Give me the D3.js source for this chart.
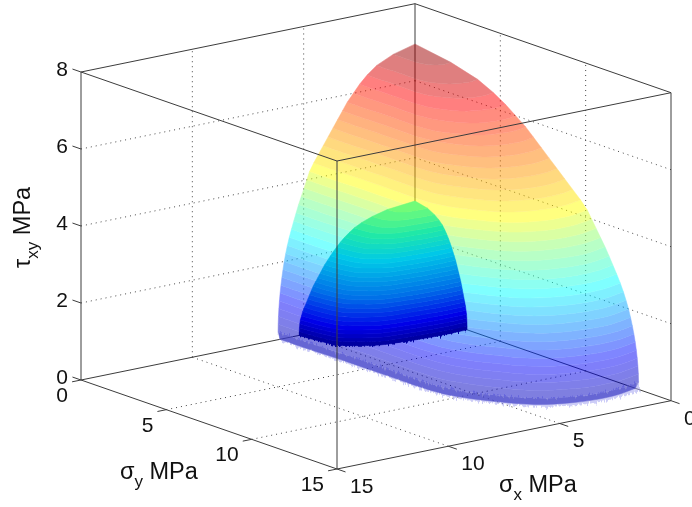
<!DOCTYPE html>
<html>
<head>
<meta charset="utf-8">
<script src="https://cdn.jsdelivr.net/npm/d3@7"></script>
<style>
  html, body { margin: 0; padding: 0; background: #fff; }
  svg { display: block; filter: blur(0.35px); }
  text { font-family: "Liberation Sans", Arial, sans-serif; fill: #111; }
  .solid { stroke: #3c3c3c; stroke-width: 1; fill: none; }
  .dots { stroke: #444; stroke-width: 1; stroke-dasharray: 1 4; fill: none; }
</style>
</head>
<body>
<svg width="692" height="507" viewBox="0 0 692 507">
  <defs>
    <filter id="fuzz" x="-5%" y="-5%" width="110%" height="110%">
      <feTurbulence type="fractalNoise" baseFrequency="0.45 0.03" numOctaves="2" seed="4"/>
      <feDisplacementMap in="SourceGraphic" scale="9" xChannelSelector="A" yChannelSelector="R"/>
    </filter>
  </defs>
</svg>
<script>
var svg = d3.select('svg');

// tick values of the three axes
var sigmaTicks = [0, 5, 10, 15];
var tauTicks = [0, 2, 4, 6, 8];

// outer surface: rim at tau = 0 (MPa)
var outerRimSx = [6.15, 6.15, 6.1, 6.08, 6.05, 5.85, 5.2, 4.25, 3.2, 2.06, 1, 0];
var outerRimSy = [0, 1.5, 3.3, 6, 8.7, 9.9, 11.3, 12.6, 13.2, 13.45, 13.4, 13.1];
// contour levels of the outer surface and how far each one has shrunk from the rim
var outerTau = [0, 0.2, 0.4, 0.6, 0.8, 1, 1.2, 1.4, 1.6, 1.8, 2, 2.2, 2.4, 2.6, 2.8, 3, 3.2, 3.4, 3.6, 3.8, 4, 4.2, 4.4, 4.6, 4.8, 5, 5.2, 5.4, 5.6, 5.8, 6, 6.2, 6.4, 6.6, 6.8, 6.95];
var outerShrink = [0.985, 1, 0.999, 0.997, 0.994, 0.99, 0.985, 0.979, 0.972, 0.964, 0.955, 0.944, 0.932, 0.918, 0.902, 0.885, 0.868, 0.85, 0.83, 0.81, 0.79, 0.77, 0.74, 0.705, 0.67, 0.635, 0.6, 0.565, 0.53, 0.495, 0.45, 0.405, 0.35, 0.28, 0.16, 0.002];

// inner surface
var innerRimSx = [5.2, 5.15, 4.9, 4.4, 3.7, 2.7, 1.63, 0.7, 0];
var innerRimSy = [0, 0.7, 1.84, 2.35, 2.78, 2.95, 3.05, 3.08, 3.05];
var innerTau = [0, 0.1, 0.2, 0.3, 0.4, 0.5, 0.6, 0.7, 0.8, 0.9, 1, 1.1, 1.2, 1.3, 1.4, 1.5, 1.6, 1.7, 1.8, 1.9, 2, 2.1, 2.2, 2.3, 2.4, 2.5, 2.6, 2.7, 2.8, 2.875];
var innerShrink = [1, 1, 0.998, 0.995, 0.99, 0.98, 0.97, 0.955, 0.94, 0.925, 0.91, 0.895, 0.88, 0.86, 0.84, 0.82, 0.8, 0.78, 0.755, 0.73, 0.705, 0.675, 0.645, 0.61, 0.57, 0.525, 0.46, 0.37, 0.24, 0.002];

// colour stops (jet) against tau
var outerColorTau = [0, 0.9, 2.6, 3.5, 4.2, 6.2, 7];
var outerColors = ['#0000b0', '#0000ff', '#00ffff', '#80ff80', '#ffff00', '#ff0000', '#800000'];
var innerColorTau = [0, 0.4, 1.1, 1.9, 2.4, 2.875];
var innerColors = ['#0000a0', '#0000e8', '#0070e8', '#00c8e8', '#20e8a8', '#80ff70'];

// oblique projection of the box, all axes are linear in pixels
var originX = 415, originY = 311.7;
var sxToX = d3.scaleLinear().domain([0, 15]).range([0, -334]);
var sxToY = d3.scaleLinear().domain([0, 15]).range([0, 68.3]);
var syToX = d3.scaleLinear().domain([0, 15]).range([0, 256]);
var syToY = d3.scaleLinear().domain([0, 15]).range([0, 89]);
var tauToY = d3.scaleLinear().domain([0, 8]).range([0, -308]);

function project(sx, sy, tau) {
    return [originX + sxToX(sx) + syToX(sy), originY + sxToY(sx) + syToY(sy) + tauToY(tau)];
}

function drawLine(layer, cls, a, b) {
    var p = project(a[0], a[1], a[2]), q = project(b[0], b[1], b[2]);
    layer.append('line').attr('class', cls)
        .attr('x1', p[0]).attr('y1', p[1]).attr('x2', q[0]).attr('y2', q[1]);
}

var rimLine = d3.line().curve(d3.curveCatmullRom.alpha(0.5));

function contour(rimSx, rimSy, tau, shrink) {
    return rimSx.map(function(sx, i) { return project(sx * shrink, rimSy[i] * shrink, tau); });
}

// the strip of surface between two neighbouring contours
function stripPath(rimSx, rimSy, tauA, shrinkA, tauB, shrinkB) {
    var low = contour(rimSx, rimSy, tauA, shrinkA);
    var high = contour(rimSx, rimSy, tauB, shrinkB).reverse();
    return rimLine(low) + 'L' + rimLine(high).slice(1) + 'Z';
}

function drawSurface(layer, rimSx, rimSy, taus, shrinks, color) {
    layer.selectAll('path')
        .data(taus.slice(0, -1))
        .enter()
        .append('path')
        .attr('d', function(d, i) { return stripPath(rimSx, rimSy, d, shrinks[i], taus[i + 1], shrinks[i + 1]); })
        .attr('fill', function(d) { return color(d); })
        .attr('stroke', function(d) { return color(d); })
        .attr('stroke-width', 0.5);
}

// back part of the box, seen through the surfaces
var back = svg.append('g');
var inside = sigmaTicks.slice(1, 3);
inside.forEach(function(v) {
    drawLine(back, 'dots', [v, 0, 0], [v, 15, 0]);
    drawLine(back, 'dots', [0, v, 0], [15, v, 0]);
    drawLine(back, 'dots', [v, 0, 0], [v, 0, 8]);
    drawLine(back, 'dots', [0, v, 0], [0, v, 8]);
});
tauTicks.slice(1, 4).forEach(function(v) {
    drawLine(back, 'dots', [15, 0, v], [0, 0, v]);
    drawLine(back, 'dots', [0, 0, v], [0, 15, v]);
});
drawLine(back, 'solid', [15, 0, 0], [0, 0, 0]);
drawLine(back, 'solid', [0, 0, 0], [0, 15, 0]);
drawLine(back, 'solid', [0, 0, 0], [0, 0, 8]);
drawLine(back, 'solid', [15, 0, 0], [15, 0, 8]);
drawLine(back, 'solid', [0, 15, 0], [0, 15, 8]);
drawLine(back, 'solid', [15, 0, 8], [0, 0, 8]);
drawLine(back, 'solid', [0, 0, 8], [0, 15, 8]);

// outer surface, the pale fuzzy skirt is the rim at tau = 0
var outerColor = d3.scaleLinear().domain(outerColorTau).range(outerColors);
svg.append('path')
    .attr('d', stripPath(outerRimSx, outerRimSy, 0, 1.01, 0.2, 1))
    .attr('fill', '#a4a4f0').attr('fill-opacity', 0.55)
    .attr('filter', 'url(#fuzz)');
drawSurface(svg.append('g').attr('opacity', 0.5), outerRimSx, outerRimSy, outerTau, outerShrink, outerColor);

// inner surface
var innerColor = d3.scaleLinear().domain(innerColorTau).range(innerColors);
svg.append('path')
    .attr('d', stripPath(innerRimSx, innerRimSy, 0, 1, 0.1, 1))
    .attr('fill', '#0000a0')
    .attr('filter', 'url(#fuzz)');
drawSurface(svg.append('g'), innerRimSx, innerRimSy, innerTau, innerShrink, innerColor);

// front part of the box
var front = svg.append('g');
drawLine(front, 'solid', [15, 0, 0], [15, 15, 0]);
drawLine(front, 'solid', [15, 15, 0], [0, 15, 0]);
drawLine(front, 'solid', [15, 15, 0], [15, 15, 8]);
drawLine(front, 'solid', [15, 0, 8], [15, 15, 8]);
drawLine(front, 'solid', [15, 15, 8], [0, 15, 8]);

// tick marks and labels
var fontSize = 21;
tauTicks.forEach(function(v) {
    drawLine(front, 'solid', [15, 0, v], [15, -0.5, v]);
    var p = project(15, 0, v);
    svg.append('text').attr('x', p[0] - 13).attr('y', p[1] + 4).attr('text-anchor', 'end')
        .attr('font-size', fontSize).text(v);
});
sigmaTicks.forEach(function(v) {
    drawLine(front, 'solid', [15, v, 0], [15.4, v, 0]);
    drawLine(front, 'solid', [v, 15, 0], [v, 15.5, 0]);
    var p = project(15, v, 0), q = project(v, 15, 0);
    svg.append('text').attr('x', p[0] - 13).attr('y', p[1] + 22).attr('text-anchor', 'end')
        .attr('font-size', fontSize).text(v);
    svg.append('text').attr('x', q[0] + 13).attr('y', q[1] + 24).attr('text-anchor', 'start')
        .attr('font-size', fontSize).text(v);
});

// axis titles, sub-scripted with tspans
function axisTitle(x, y, rotate, head, sub) {
    var t = svg.append('text').attr('font-size', 23.5).attr('transform', 'translate(' + [x, y] + ') rotate(' + rotate + ')');
    t.append('tspan').text(head);
    t.append('tspan').attr('font-size', 17).attr('dy', 8).text(sub);
    t.append('tspan').attr('dy', -8).text(' MPa');
}
axisTitle(120, 479, 0, 'σ', 'y');
axisTitle(499, 492, 0, 'σ', 'x');
axisTitle(30, 268, -90, 'τ', 'xy');
</script>
</body>
</html>
